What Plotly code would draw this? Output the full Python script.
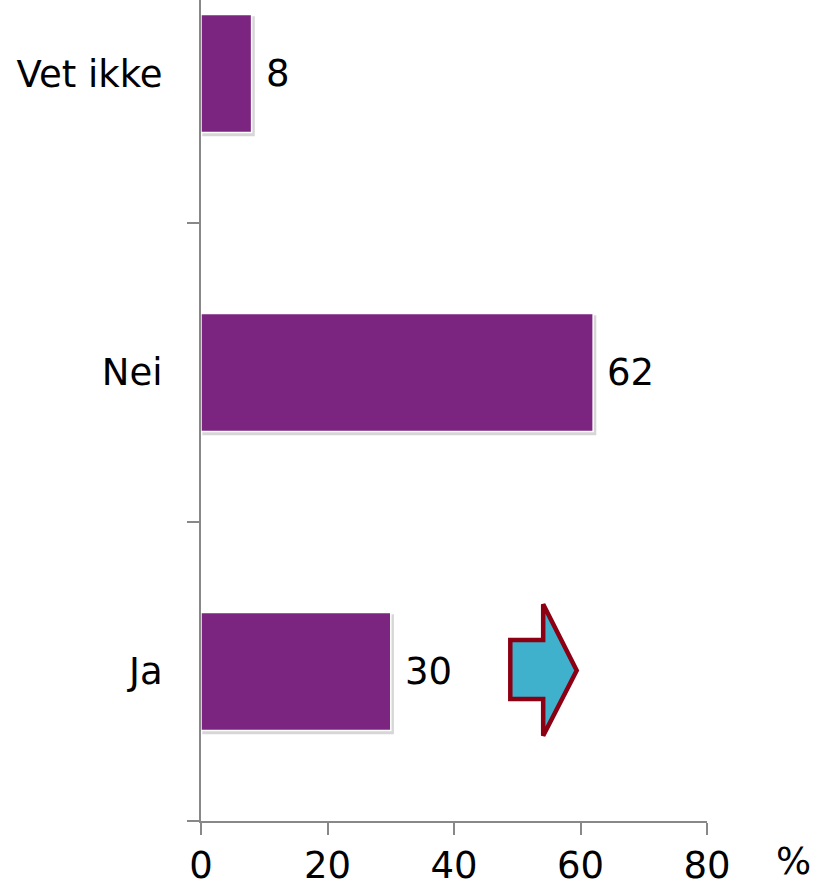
import plotly.graph_objects as go

categories = ["Ja", "Nei", "Vet ikke"]
values = [30, 62, 8]
x_ticks = [0, 20, 40, 60, 80]

BAR_COLOR = "#7B2480"
FONT = "DejaVu Sans, Verdana, sans-serif"
FS = 37
BAR_W = 0.395

L, R, T, B = 201, 110, 0, 68
W, H = 817, 889

fig = go.Figure()

# soft shadows behind bars
for i, v in enumerate(values):
    fig.add_shape(type="rect", xref="x", yref="y",
                  x0=0.2, x1=v + 0.5, y0=i - BAR_W / 2 - 0.012, y1=i + BAR_W / 2 - 0.006,
                  fillcolor="rgba(0,0,0,0.16)", line=dict(width=0), layer="below")

fig.add_trace(go.Bar(
    y=categories, x=values, orientation="h", width=BAR_W,
    marker=dict(color=BAR_COLOR, line=dict(color="white", width=1.5)),
    hoverinfo="skip",
))

for c, v in zip(categories, values):
    fig.add_annotation(x=v, y=c, text=str(v), showarrow=False, xanchor="left",
                       xshift=12, font=dict(family=FONT, size=FS, color="black"))

# block arrow decoration
fig.add_shape(type="path", xref="x", yref="y",
              path="M 48.9,0.105 L 54.1,0.105 L 54.1,0.225 L 59.4,0.003 L 54.1,-0.215 L 54.1,-0.092 L 48.9,-0.092 Z",
              fillcolor="#40B1CD", line=dict(color="#8C0014", width=4.5))

# "%" unit label at the right end of the x axis
fig.add_annotation(x=(793 - L) / (W - L - R), y=(H - B - 861) / (H - B - T),
                   xref="paper", yref="paper", text="%", showarrow=False,
                   xanchor="center", yanchor="middle",
                   font=dict(family=FONT, size=FS, color="black"))

fig.update_layout(
    width=W, height=H,
    margin=dict(l=L, r=R, t=T, b=B, autoexpand=False),
    plot_bgcolor="white", paper_bgcolor="white",
    showlegend=False,
    font=dict(family=FONT, size=FS, color="black"),
    xaxis=dict(range=[0, 80], tickvals=x_ticks, ticks="outside", ticklen=12, tickwidth=2,
               tickcolor="#888888", showline=True, linecolor="#888888", linewidth=2,
               showgrid=False, zeroline=False, fixedrange=True, automargin=False,
               ticklabelstandoff=-1,
               tickfont=dict(family=FONT, size=FS, color="black")),
    yaxis=dict(range=[-0.5, 2.246], categoryorder="array", categoryarray=categories,
               ticks="outside", tickson="boundaries", ticklen=12, tickwidth=2,
               tickcolor="#888888", showline=True, linecolor="#888888", linewidth=2,
               showgrid=False, zeroline=False, fixedrange=True, ticklabelstandoff=29,
               automargin=False,
               tickfont=dict(family=FONT, size=FS, color="black")),
)

fig.write_html("out.html", config={"displayModeBar": False},
               post_script="document.body.style.margin='0';document.body.style.overflow='hidden';")
